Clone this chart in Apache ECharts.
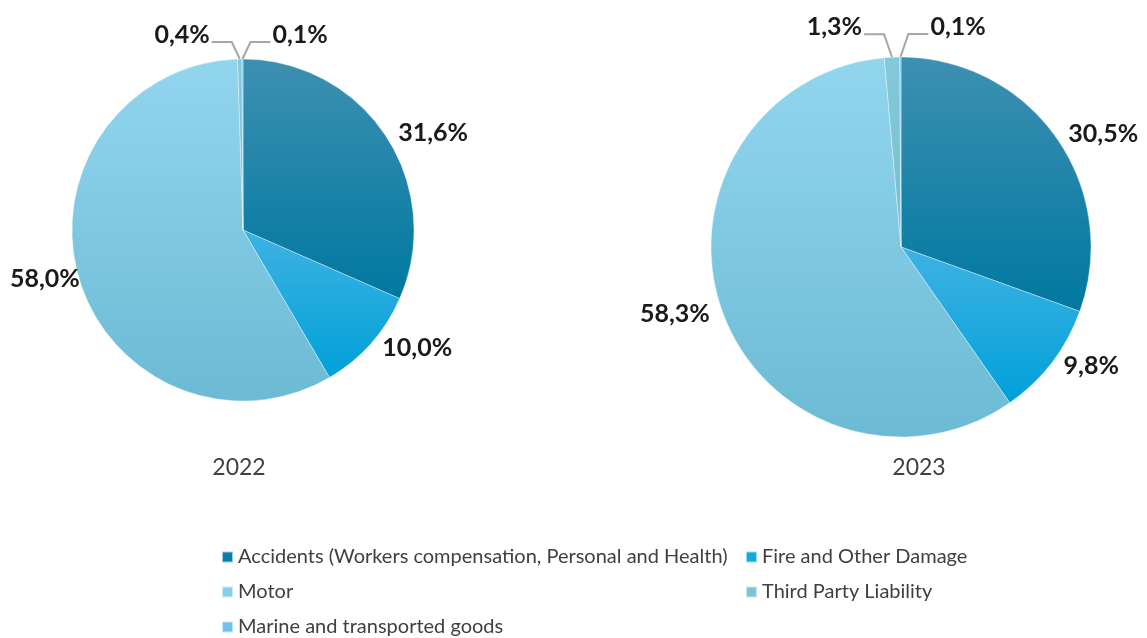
<!DOCTYPE html>
<html>
<head>
<meta charset="utf-8">
<script src="https://cdn.jsdelivr.net/npm/echarts@6/dist/echarts.min.js"></script>
<style>
  html, body { margin: 0; padding: 0; background: #ffffff; }
  #chart { width: 1147px; height: 638px; }
</style>
</head>
<body>
<div id="chart"></div>
<script>
// Share of insurance premiums by line of business (%)
const categories = [
  'Accidents (Workers compensation, Personal and Health)',
  'Fire and Other Damage',
  'Motor',
  'Third Party Liability',
  'Marine and transported goods'
];
const years = ['2022', '2023'];
const values2022 = [31.6, 10.0, 58.0, 0.4, 0.1];
const values2023 = [30.5, 9.8, 58.3, 1.3, 0.1];

// vertical gradients, light at the top, darker at the bottom
const sliceColors = [
  ['#3d90b1', '#0078a0'],
  ['#3fb2e3', '#00a1d8'],
  ['#92d6ee', '#6cbad4'],
  ['#84c9da', '#74bfd1'],
  ['#74c8ee', '#64bde6']
];
const legendColors = ['#0a7ea6', '#12a9e0', '#86d0ea', '#7cc4d6', '#6cc2ea'];

function grad(pair) {
  return new echarts.graphic.LinearGradient(0, 0, 0, 1, [
    { offset: 0, color: pair[0] },
    { offset: 1, color: pair[1] }
  ]);
}

function fmt(v) {
  return v.toFixed(1).replace('.', ',') + '%';
}

function buildData(vals, edgeIdx) {
  return categories.map((name, i) => {
    const small = vals[i] < 2;
    const item = {
      name: name,
      value: vals[i],
      itemStyle: { color: grad(sliceColors[i]) },
      labelLine: small ? { show: true, length: 14, length2: 8 } : { show: false, length: 6, length2: 2 }
    };
    if (i === edgeIdx) {
      item.label = { alignTo: 'edge', edgeDistance: 10 };
    }
    return item;
  });
}

// the two tiny slices at the top get split leader lines: one to the left, one to the right
function smallLabelLayout(rise) {
  return function (params) {
    const idx = params.dataIndex;
    if (idx < 3 || !params.labelLinePoints) return {};
    const p0 = params.labelLinePoints[0];
    const dir = idx === 3 ? -1 : 1;
    const p1 = [p0[0] + dir * 8, p0[1] - rise];
    const p2 = [p0[0] + dir * 28, p0[1] - rise];
    return {
      x: p2[0] + dir * 2,
      y: p2[1] - 7,
      align: dir < 0 ? 'right' : 'left',
      verticalAlign: 'middle',
      labelLinePoints: [p0, p1, p2]
    };
  };
}

function pieSeries(year, vals, center, radius, edgeIdx, rise) {
  return {
    type: 'pie',
    name: year,
    center: center,
    radius: radius,
    startAngle: 90,
    clockwise: true,
    avoidLabelOverlap: false,
    itemStyle: { borderColor: 'rgba(255,255,255,0.6)', borderWidth: 0.6 },
    label: {
      show: true,
      position: 'outside',
      formatter: p => fmt(p.value),
      fontFamily: 'Lato',
      fontWeight: 'bold',
      fontSize: 25,
      color: '#1a1a1a'
    },
    labelLine: {
      lineStyle: { color: '#a6a6a6', width: 2 }
    },
    labelLayout: smallLabelLayout(rise),
    emphasis: { disabled: true },
    data: buildData(vals, edgeIdx)
  };
}

const legendText = { fontFamily: 'Lato', fontSize: 20, color: '#404040', lineHeight: 22 };
const legendBase = {
  orient: 'vertical',
  itemWidth: 11, itemHeight: 11, itemGap: 13,
  icon: 'rect',
  textStyle: legendText,
  selectedMode: false
};
function legendItems(idxs) {
  return idxs.map(i => ({ name: categories[i], itemStyle: { color: legendColors[i] } }));
}

const yearStyle = { fontFamily: 'Lato', fontWeight: 'normal', fontSize: 23, color: '#404040' };

const option = {
  backgroundColor: '#ffffff',
  animation: false,
  color: legendColors,
  title: [
    { text: years[0], left: 234, top: 451, textAlign: 'center', textStyle: yearStyle },
    { text: years[1], left: 914, top: 451, textAlign: 'center', textStyle: yearStyle }
  ],
  legend: [
    Object.assign({}, legendBase, { data: legendItems([0, 2]), left: 216, top: 541 }),
    Object.assign({}, legendBase, { data: legendItems([4]), left: 216, top: 611 }),
    Object.assign({}, legendBase, { data: legendItems([1, 3]), left: 740, top: 541 })
  ],
  series: [
    pieSeries(years[0], values2022, [243, 230], 171, 2, 17),
    pieSeries(years[1], values2023, [901, 247], 190, -1, 23)
  ]
};

const chart = echarts.init(document.getElementById('chart'), null, { renderer: 'canvas' });
chart.setOption(option);
</script>
</body>
</html>
